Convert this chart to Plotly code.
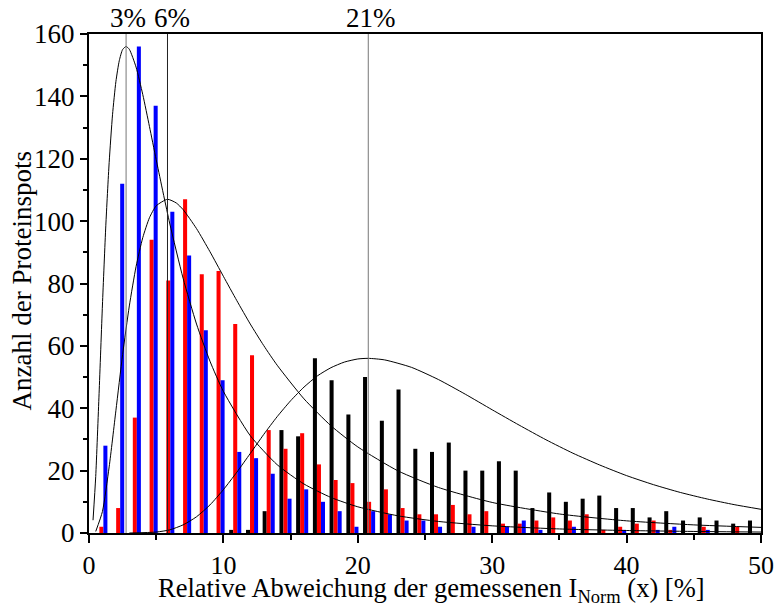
import plotly.graph_objects as go

# ---- data ----
bin_centers = [0.92, 2.17, 3.41, 4.66, 5.90, 7.15, 8.39, 9.64, 10.88, 12.13,
               13.37, 14.62, 15.86, 17.11, 18.35, 19.60, 20.84, 22.09, 23.33, 24.58,
               25.82, 27.07, 28.31, 29.56, 30.80, 32.05, 33.29, 34.54, 35.78, 37.03,
               38.27, 39.52, 40.76, 42.01, 43.25, 44.50, 45.74, 46.99, 48.23, 49.48]

black_counts = [0, 0, 0, 0, 0, 0, 0, 0, 1, 1,
                7, 33, 31, 56, 49, 38, 50, 36, 46, 27,
                26, 29, 20, 20, 23, 20, 8, 13, 10, 11,
                12, 8, 8, 5, 7, 4, 5, 4, 3, 4]
red_counts = [2, 8, 37, 94, 81, 107, 83, 84, 67, 57,
              33, 27, 32, 22, 17, 16, 10, 14, 8, 6,
              6, 9, 6, 7, 3, 3, 4, 5, 4, 6,
              1, 2, 3, 4, 1, 0, 2, 0, 2, 0]
blue_counts = [28, 112, 156, 137, 103, 89, 65, 49, 26, 24,
               19, 11, 14, 10, 7, 2, 7, 6, 4, 4,
               2, 0, 2, 0, 2, 4, 1, 0, 2, 0,
               0, 1, 0, 1, 2, 0, 1, 0, 0, 0]

# fitted distribution curves
blue_fit_x = [0.3, 0.5, 0.75, 1, 1.25, 1.5, 1.75, 2, 2.25, 2.5, 2.76, 3, 3.5, 4, 4.5, 5,
              6, 7, 8, 9, 10, 12, 14, 16, 18, 20, 23, 26, 30, 35, 40, 45, 50]
blue_fit_y = [4.1, 18.1, 44.7, 73.1, 98.5, 118.8, 134.1, 144.7, 151.4, 155.0, 156.0, 155.1,
              149.4, 140.6, 130.3, 119.7, 99.4, 81.7, 67.0, 55.1, 45.4, 31.2, 21.9, 15.7,
              11.4, 8.4, 5.5, 3.7, 2.3, 1.3, 0.8, 0.5, 0.3]

red_fit_x = [0.5, 1, 1.5, 2, 2.5, 3, 3.5, 4, 4.5, 5, 5.84, 6.5, 7, 8, 9, 10, 11, 12, 13, 14,
             16, 18, 20, 23, 26, 30, 35, 40, 45, 50]
red_fit_y = [0.5, 6.9, 21.2, 39.2, 57.2, 72.8, 85.4, 94.7, 101.1, 104.9, 107.0, 105.8, 103.7,
             97.6, 90.2, 82.3, 74.5, 67.0, 60.1, 53.8, 43.0, 34.4, 27.6, 19.9, 14.6, 9.8,
             6.1, 3.9, 2.6, 1.8]

black_fit_x = [3, 5, 6, 7, 8, 9, 10, 11, 12, 13, 14, 15, 16, 17, 18, 19, 20, 20.78, 22, 24,
               26, 28, 30, 32, 34, 36, 38, 40, 42, 44, 46, 48, 50]
black_fit_y = [0.0, 0.3, 1.0, 2.6, 5.2, 9.0, 13.9, 19.5, 25.5, 31.6, 37.3, 42.4, 46.8, 50.4,
               53.0, 54.8, 55.8, 56.0, 55.5, 53.1, 49.2, 44.5, 39.5, 34.6, 29.9, 25.6, 21.8,
               18.4, 15.5, 13.0, 10.9, 9.1, 7.6]

peak_positions = [2.76, 5.84, 20.78]
peak_labels = ["3%", "6%", "21%"]

x_title = "Relative Abweichung der gemessenen I<sub>Norm</sub> (x) [%]"
y_title = "Anzahl der Proteinspots"

FONT = "Liberation Serif"

fig = go.Figure()

bar_w = 0.30
for vals, col, off in [(black_counts, "#000000", -1.5 * bar_w),
                       (red_counts, "#FF0000", -0.5 * bar_w),
                       (blue_counts, "#0000FF", 0.5 * bar_w)]:
    fig.add_trace(go.Bar(x=bin_centers, y=vals, width=bar_w, offset=off,
                         marker=dict(color=col, line=dict(width=0)),
                         showlegend=False, hoverinfo="skip"))

for fx, fy in [(blue_fit_x, blue_fit_y), (red_fit_x, red_fit_y), (black_fit_x, black_fit_y)]:
    fig.add_trace(go.Scatter(x=fx, y=fy, mode="lines",
                             line=dict(color="#000000", width=1, shape="spline", smoothing=0.6),
                             showlegend=False, hoverinfo="skip"))

line_cols = ["#777777", "#222222", "#777777"]
label_shift = [2, 5, 3]
for px, lab, lc, sh in zip(peak_positions, peak_labels, line_cols, label_shift):
    fig.add_shape(type="line", xref="x", yref="paper", x0=px, x1=px, y0=0, y1=1,
                  line=dict(color=lc, width=1), layer="above")
    fig.add_annotation(x=px, y=1, xref="x", yref="paper", text=lab, showarrow=False,
                       xanchor="center", yanchor="bottom", xshift=sh, yshift=-1,
                       font=dict(family=FONT, size=27, color="#000"))

# axis titles as annotations for exact placement
fig.add_annotation(x=0.51, y=-0.114, xref="paper", yref="paper", text=x_title, showarrow=False,
                   xanchor="center", yanchor="middle", borderpad=0,
                   font=dict(family=FONT, size=26.5, color="#000"))
fig.add_annotation(x=-0.099, y=0.505, xref="paper", yref="paper", text=y_title, showarrow=False,
                   textangle=-90, xanchor="center", yanchor="middle", borderpad=0,
                   font=dict(family=FONT, size=27, color="#000"))

fig.update_layout(
    width=777, height=608,
    margin=dict(l=89, r=16, t=34, b=75, autoexpand=False),
    plot_bgcolor="white", paper_bgcolor="white",
    barmode="overlay",
    font=dict(family=FONT, size=27, color="#000"),
)
fig.update_xaxes(range=[0, 50], tickvals=[0, 10, 20, 30, 40, 50], ticks="outside", ticklen=8,
                 tickwidth=1.5, tickcolor="#000", showline=True, linecolor="#000", linewidth=2,
                 mirror=True, showgrid=False, zeroline=False, automargin=False,
                 minor=dict(dtick=5, ticks="outside", ticklen=5, tickwidth=1.5, tickcolor="#000", showgrid=False),
                 tickfont=dict(family=FONT, size=26))
fig.update_yaxes(range=[0, 160], tickvals=[0, 20, 40, 60, 80, 100, 120, 140, 160], ticks="outside", ticklen=7,
                 tickwidth=1.5, tickcolor="#000", showline=True, linecolor="#000", linewidth=2,
                 mirror=True, showgrid=False, zeroline=False, automargin=False,
                 minor=dict(dtick=10, ticks="outside", ticklen=4, tickwidth=1.5, tickcolor="#000", showgrid=False),
                 tickfont=dict(family=FONT, size=27))

fig.write_html("out.html")
